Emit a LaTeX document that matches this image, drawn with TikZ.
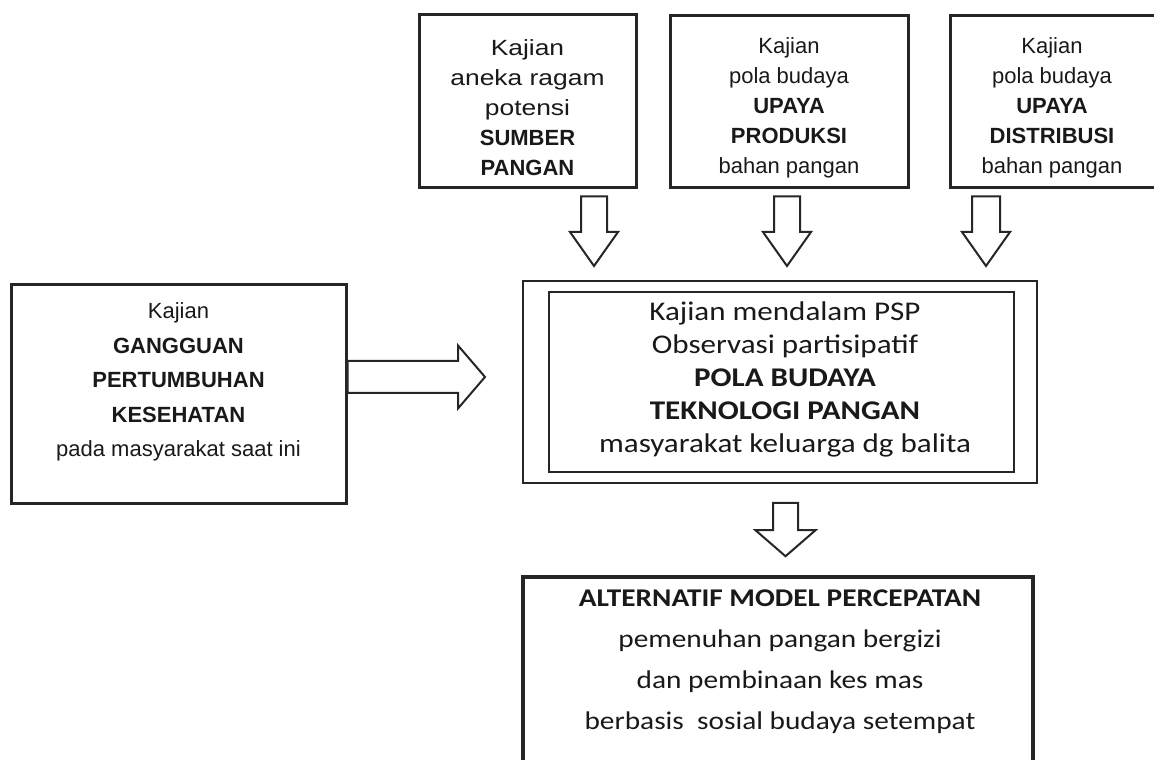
\documentclass[tikz,border=0pt]{standalone}
\usepackage{fontspec}
\setmainfont{Liberation Sans}
\newfontfamily\widefont[FakeStretch=1.2]{Liberation Sans}
\newfontfamily\calfont[FakeStretch=1.15]{Carlito}
\usetikzlibrary{calc,positioning}

% block arrows between two points: from, to, shaft half width, head half width, head length
\newcommand{\fatdown}[5]{%
  \draw[fat] let \p1=(#1), \p2=(#2) in
    (\x1-#3pt,\y1) -- (\x1+#3pt,\y1) -- (\x1+#3pt,\y2+#5pt) -- (\x1+#4pt,\y2+#5pt)
    -- (\x1,\y2) -- (\x1-#4pt,\y2+#5pt) -- (\x1-#3pt,\y2+#5pt) -- cycle;}
\newcommand{\fatright}[5]{%
  \draw[fat] let \p1=(#1), \p2=(#2) in
    (\x1,\y1+#3pt) -- (\x2-#5pt,\y1+#3pt) -- (\x2-#5pt,\y1+#4pt) -- (\x2,\y1)
    -- (\x2-#5pt,\y1-#4pt) -- (\x2-#5pt,\y1-#3pt) -- (\x1,\y1-#3pt) -- cycle;}

\begin{document}
\begin{tikzpicture}[
            x=1pt, y=1pt,
            box/.style={draw=black!85, line width=3pt, inner sep=0pt},
            thinbox/.style={draw=black!85, line width=2pt, inner sep=0pt},
            toptext/.style={align=center, inner sep=0pt, text=black!90, font=\fontsize{22}{30}\selectfont},
            lefttext/.style={align=center, inner sep=0pt, text=black!90, font=\fontsize{22}{34.5}\selectfont},
            midtext/.style={align=center, inner sep=0pt, text=black!90, font=\calfont\fontsize{27}{33}\selectfont},
            bottext/.style={align=center, inner sep=0pt, text=black!90, font=\calfont\fontsize{25.5}{41}\selectfont},
            fat/.style={draw=black!85, line width=2pt, fill=white, line join=miter},
        ]
        \useasboundingbox (0,0) rectangle (1154,760);
        % TOP: three studies
        \node[box, minimum width=217, minimum height=173] (srcbox) at (527.5,658.5) {};
        \node[toptext] (srctext) at ($(srcbox.center)+(0,-6.5)$) {{\widefont Kajian}\\{\widefont aneka ragam}\\{\widefont potensi}\\\textbf{SUMBER}\\\textbf{PANGAN}};
        \node[box, minimum width=238, minimum height=172] (prodbox) at (789,658) {};
        \node[toptext] (prodtext) at ($(prodbox.center)+(0,-6)$) {Kajian\\pola budaya\\\textbf{UPAYA}\\\textbf{PRODUKSI}\\bahan pangan};
        \node[box, minimum width=208, minimum height=172] (distbox) at (1054,658) {};
        \node[toptext] (disttext) at ($(distbox.center)+(-2,-6)$) {Kajian\\pola budaya\\\textbf{UPAYA}\\\textbf{DISTRIBUSI}\\bahan pangan};
        % LEFT: growth disorders
        \node[box, minimum width=335, minimum height=219] (gangbox) at (178.5,365.5) {};
        \node[lefttext] (gangtext) at ($(gangbox.center)+(0,12.5)$) {Kajian\\\textbf{GANGGUAN}\\\textbf{PERTUMBUHAN}\\\textbf{KESEHATAN}\\pada masyarakat saat ini};
        % CENTRE: in-depth study
        \node[thinbox, minimum width=514, minimum height=202] (pspbox) at (780,378) {};
        \node[thinbox, minimum width=465, minimum height=180] (pspinner) at (781.5,378) {};
        \node[midtext] (psptext) at ($(pspinner.center)+(3.5,3)$) {Kajian mendalam PSP\\Observasi partisipatif\\\textbf{POLA BUDAYA}\\\textbf{TEKNOLOGI PANGAN}\\masyarakat keluarga dg balita};
        % BOTTOM: model
        \node[box, line width=3.5pt, minimum width=510, minimum height=193] (altbox) at (778,86.5) {};
        \node[bottext] (alttext) at ($(altbox.north)+(2,-86)$) {\textbf{ALTERNATIF MODEL PERCEPATAN}\\pemenuhan pangan bergizi\\dan pembinaan kes mas\\berbasis\ \ sosial budaya setempat};
        % arrows
        \fatdown{$(srcbox.south)+(66.5,-7)$}{$(pspbox.north)+(0,14)$}{13}{24}{34}
        \fatdown{$(prodbox.south)+(-2,-7)$}{$(pspbox.north)+(0,14)$}{13}{24}{34}
        \fatdown{$(distbox.south)+(-68,-7)$}{$(pspbox.north)+(0,14)$}{14}{24}{34}
        \fatright{$(gangbox.east)+(0,17.5)$}{$(pspbox.west)+(-37,0)$}{16}{31.5}{27}
        \fatdown{$(pspbox.south)+(5.5,-19)$}{$(altbox.north)+(0,19)$}{12.5}{30}{26}
\end{tikzpicture}
\end{document}
